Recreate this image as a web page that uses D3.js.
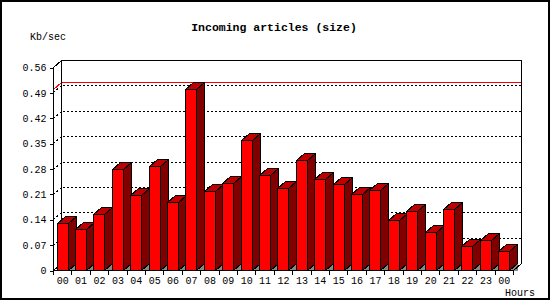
<!DOCTYPE html>
<html>
<head>
<meta charset="utf-8">
<script src="https://cdn.jsdelivr.net/npm/d3@7"></script>
<style>
  body { margin: 0; background: #fff; }
  svg { display: block; }
  path, line, rect { shape-rendering: crispEdges; }
  text { font-family: "Liberation Mono", "DejaVu Sans Mono", monospace; }
</style>
</head>
<body>
<div id="chart"></div>
<script>

var width = 550,
    height = 300;

// hourly incoming article size, Kb/sec
var hours = ["00","01","02","03","04","05","06","07","08","09","10","11",
             "12","13","14","15","16","17","18","19","20","21","22","23","00"];
var values = [0.131, 0.112, 0.154, 0.278, 0.206, 0.286, 0.187, 0.499, 0.217, 0.239,
              0.358, 0.261, 0.225, 0.303, 0.250, 0.237, 0.210, 0.220, 0.137, 0.162,
              0.104, 0.167, 0.065, 0.083, 0.052];
var yTicks = [0, 0.07, 0.14, 0.21, 0.28, 0.35, 0.42, 0.49, 0.56];
var maxValue = d3.max(values);

var dx = 8, dy = -7;   // 3d depth offset

var x = d3.scaleBand().domain(d3.range(hours.length)).range([53.5, 513.5]);
var y = d3.scaleLinear().domain([0, 0.56]).range([270.5, 67.5]);

var svg = d3.select("#chart").append("svg")
  .attr("width", width)
  .attr("height", height);

// outer frame
svg.append("rect")
  .attr("x", 1).attr("y", 1)
  .attr("width", width - 2).attr("height", height - 2)
  .attr("fill", "#fff").attr("stroke", "#000").attr("stroke-width", 2);

svg.append("text")
  .attr("x", 274).attr("y", 31)
  .attr("text-anchor", "middle")
  .attr("font-weight", "bold")
  .attr("font-size", "11.5px")
  .text("Incoming articles (size)");

svg.append("text")
  .attr("x", 30).attr("y", 40)
  .attr("font-size", "10px")
  .text("Kb/sec");

svg.append("text")
  .attr("x", 505).attr("y", 296)
  .attr("font-size", "10px")
  .text("Hours");

var x0 = x.range()[0], x1 = x.range()[1];
var line = d3.line();

function snap(v) { return Math.round(v - 0.5) + 0.5; }

// dashed gridlines on back plane
svg.selectAll(".grid")
  .data(yTicks.filter(function(d) { return d > 0 && d < 0.56; }))
  .enter().append("path")
  .attr("class", "grid")
  .attr("d", function(d) {
    var yy = snap(y(d));
    return line([[x0, yy], [x0 + dx, yy + dy], [x1 + dx, yy + dy]]);
  })
  .attr("fill", "none")
  .attr("stroke", "#000")
  .attr("stroke-dasharray", "2,2");

// max line
var ym = snap(y(maxValue));
svg.append("path")
  .attr("d", line([[x0, ym], [x0 + dx, ym + dy], [x1 + dx, ym + dy]]))
  .attr("fill", "none")
  .attr("stroke", "#f00");

// back plane outline
svg.append("path")
  .attr("d", line([[x0, y(0.56)], [x0 + dx, y(0.56) + dy], [x1 + dx, y(0.56) + dy],
                   [x1 + dx, y(0) + dy]]))
  .attr("fill", "none").attr("stroke", "#000");
svg.append("path")
  .attr("d", line([[x0 + dx, y(0.56) + dy], [x0 + dx, y(0) + dy], [x0, y(0)]]))
  .attr("fill", "none").attr("stroke", "#000");

// bars
var bw = Math.round(x.bandwidth() * 0.58),
    off = x.bandwidth() * 0.2;

function barLeft(i) { return snap(x(i) + off); }
function barTop(d) { return snap(y(d)); }

var bars = svg.selectAll(".bar")
  .data(values)
  .enter().append("g")
  .attr("class", "bar");

bars.append("path")  // floor shadow
  .attr("d", function(d, i) {
    var l = barLeft(i) + bw;
    return line([[l, y(0)], [l + dx, y(0) + dy], [l + dx, y(0)]]) + "Z";
  })
  .attr("fill", "#888");

bars.append("path")  // side
  .attr("d", function(d, i) {
    var l = barLeft(i) + bw, t = barTop(d);
    return line([[l, t], [l + dx, t + dy], [l + dx, y(0) + dy], [l, y(0)]]) + "Z";
  })
  .attr("fill", "#800000").attr("stroke", "#000");

bars.append("path")  // top
  .attr("d", function(d, i) {
    var l = barLeft(i), t = barTop(d);
    return line([[l, t], [l + dx, t + dy], [l + bw + dx, t + dy], [l + bw, t]]) + "Z";
  })
  .attr("fill", "#c00000").attr("stroke", "#000");

bars.append("rect")  // front
  .attr("x", function(d, i) { return barLeft(i); })
  .attr("y", function(d) { return barTop(d); })
  .attr("width", bw)
  .attr("height", function(d) { return y(0) - barTop(d); })
  .attr("fill", "#f00").attr("stroke", "#000");

// front axes
svg.append("path")
  .attr("d", line([[x0, y(0.56)], [x0, y(0)], [x1, y(0)], [x1 + dx, y(0) + dy]]))
  .attr("fill", "none").attr("stroke", "#000");

var yAxis = svg.append("g")
  .attr("transform", "translate(" + x0 + ",0)")
  .call(d3.axisLeft(y).tickValues(yTicks).tickSize(4).tickPadding(3)
    .tickFormat(function(d) { return d === 0 ? "0" : d.toFixed(2); }));
yAxis.select(".domain").remove();
yAxis.selectAll("text").attr("font-family", null).attr("font-size", "10px");

// x ticks at band edges
svg.selectAll(".xtick")
  .data(d3.range(hours.length + 1))
  .enter().append("line")
  .attr("class", "xtick")
  .attr("x1", function(i) { return snap(x0 + i * x.step()); })
  .attr("x2", function(i) { return snap(x0 + i * x.step()); })
  .attr("y1", y(0)).attr("y2", y(0) + 4)
  .attr("stroke", "#000");

var xAxis = svg.append("g")
  .attr("transform", "translate(0," + y(0) + ")")
  .call(d3.axisBottom(x).tickSize(0).tickPadding(6)
    .tickFormat(function(i) { return hours[i]; }));
xAxis.select(".domain").remove();
xAxis.selectAll("text").attr("font-family", null).attr("font-size", "10px");

</script>
</body>
</html>
